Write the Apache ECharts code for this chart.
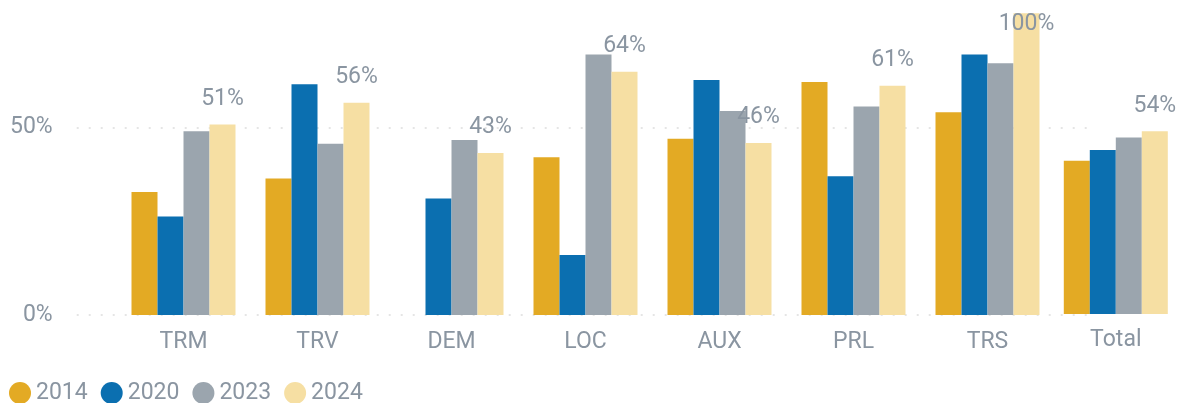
<!DOCTYPE html>
<html lang="en">
<head>
    <meta charset="UTF-8">
    <title>Chart</title>
    <script src="https://cdn.jsdelivr.net/npm/echarts@6/dist/echarts.min.js"></script>
    <style>
        html, body { margin: 0; padding: 0; background: #fff; }
    </style>
</head>
<body>
<div id="main" style="width: 1184px;height:403px;"></div>

<script type="text/javascript">
    // data
    var categories = ['TRM', 'TRV', 'DEM', 'LOC', 'AUX', 'PRL', 'TRS'];
    var years = ['2014', '2020', '2023', '2024'];
    var values2014 = [32.8, 36.4, 0, 42.1, 47.0, 62.2, 54.1];
    var values2020 = [26.3, 61.6, 31.1, 16.0, 62.7, 37.0, 69.5];
    var values2023 = [49.0, 45.7, 46.7, 69.5, 54.4, 55.6, 67.2];
    var values2024 = [50.8, 56.6, 43.2, 64.9, 45.9, 61.2, 100];
    var labels2024 = ['51%', '56%', '43%', '64%', '46%', '61%', '100%'];

    // the "Total" group is its own little chart with its own scale
    var totalCategory = ['Total'];
    var total2014 = [45.3];
    var total2020 = [48.5];
    var total2023 = [52.2];
    var total2024 = [54];
    var totalLabels2024 = ['54%'];

    var yTicks = [0, 50];

    var colors = ['#E3AA24', '#0B6FB0', '#9BA5AE', '#F6DFA3'];
    var textColor = '#8A95A1';
    var font = 'Roboto';
    var fontSize = 23;
    var mainMax = 80.5;
    var totalMax = 88.7;

    var mainValues = [values2014, values2020, values2023, values2024];
    var totalValues = [total2014, total2020, total2023, total2024];

    var myChart = echarts.init(document.getElementById('main'));

    function labelItems(vals, texts, max) {
        return vals.map(function (v, i) {
            var item = { value: v, label: { show: true, formatter: texts[i] } };
            if (v > max) {
                // bar is cut by the top of the plot, keep label inside it
                item.label.position = 'insideTop';
                item.label.distance = 0;
                item.label.offset = [0, -1];
            }
            return item;
        });
    }

    var series = [];
    years.forEach(function (y, k) {
        var s = {
            name: y,
            type: 'bar',
            xAxisIndex: 1,
            yAxisIndex: 1,
            barWidth: 26,
            barGap: '0%',
            itemStyle: { color: colors[k] },
            data: mainValues[k]
        };
        if (k === 3) {
            s.data = labelItems(values2024, labels2024, mainMax);
        }
        series.push(s);
    });
    years.forEach(function (y, k) {
        var s = {
            name: y,
            type: 'bar',
            xAxisIndex: 2,
            yAxisIndex: 2,
            barWidth: 26,
            barGap: '0%',
            itemStyle: { color: colors[k] },
            data: totalValues[k]
        };
        if (k === 3) {
            s.data = labelItems(total2024, totalLabels2024, totalMax);
        }
        series.push(s);
    });

    var option = {
        backgroundColor: '#fff',
        animation: false,
        textStyle: { fontFamily: font },
        color: colors,
        legend: {
            data: years,
            left: 9,
            top: 381.5,
            padding: 0,
            icon: 'circle',
            itemWidth: 22,
            itemHeight: 22,
            itemGap: 13,
            textStyle: { color: textColor, fontSize: fontSize, fontFamily: font }
        },
        grid: [
            // gridlines + y labels
            { left: 76.7, width: 1013, top: 13.3, height: 301.7 },
            // main bars
            { left: 116.5, width: 938, top: 13.3, height: 301.7 },
            // total bars
            { left: 1048.8, width: 134, top: 14, height: 300 }
        ],
        xAxis: [
            { gridIndex: 0, type: 'value', show: false, min: 0, max: 1 },
            {
                gridIndex: 1,
                type: 'category',
                data: categories,
                axisLine: { show: false },
                axisTick: { show: false },
                axisLabel: { color: textColor, fontSize: fontSize, margin: 16 }
            },
            {
                gridIndex: 2,
                type: 'category',
                data: totalCategory,
                axisLine: { show: false },
                axisTick: { show: false },
                axisLabel: { color: textColor, fontSize: fontSize, margin: 15 }
            }
        ],
        yAxis: [
            {
                gridIndex: 0,
                type: 'value',
                min: yTicks[0],
                max: mainMax,
                interval: yTicks[1] - yTicks[0],
                axisLine: { show: false },
                axisTick: { show: false },
                axisLabel: {
                    color: textColor,
                    fontSize: fontSize,
                    margin: 24,
                    showMaxLabel: false,
                    formatter: '{value}%'
                },
                splitLine: {
                    show: true,
                    showMaxLine: false,
                    lineStyle: { color: '#DDDDDD', width: 1.5, type: [2, 10] }
                }
            },
            { gridIndex: 1, type: 'value', min: 0, max: mainMax, show: false, splitLine: { show: false } },
            { gridIndex: 2, type: 'value', min: 0, max: totalMax, show: false, splitLine: { show: false } }
        ],
        series: series.map(function (s) {
            s.label = {
                show: false,
                position: 'top',
                distance: 14,
                color: textColor,
                fontSize: fontSize,
                fontFamily: font
            };
            return s;
        })
    };
    myChart.setOption(option);
</script>
</body>
</html>
